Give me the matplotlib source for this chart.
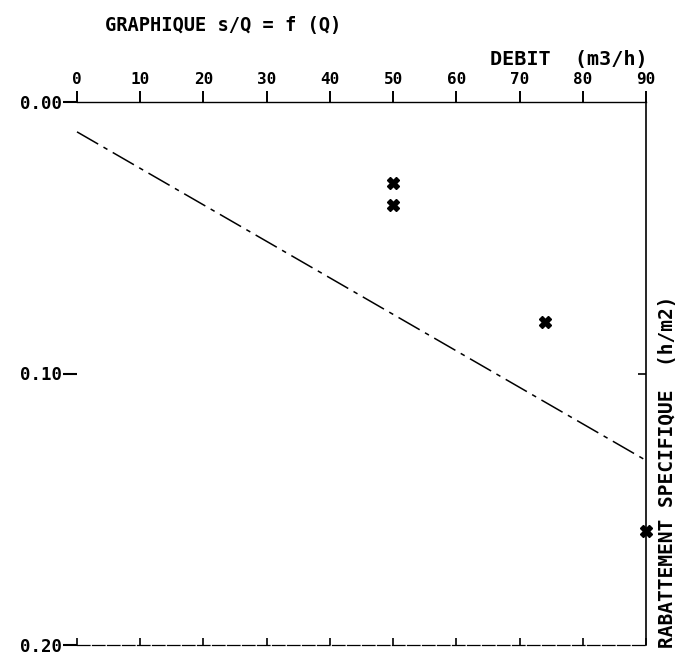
import matplotlib
matplotlib.use('Agg')
import matplotlib.pyplot as plt

# data
debit_points = [50, 50, 74, 90]
sq_points = [0.030, 0.038, 0.081, 0.158]
fit_debit = [0, 90]
fit_sq = [0.011, 0.132]

x_ticks = [0, 10, 20, 30, 40, 50, 60, 70, 80, 90]
y_ticks = [0.00, 0.10, 0.20]
y_labels = ['0.00', '0.10', '0.20']

mono = 'DejaVu Sans Mono'

fig = plt.figure(figsize=(6.85, 6.7), dpi=100)
ax = fig.add_axes([77 / 685, 1 - 645 / 670, 569 / 685, 543 / 670])

# regression line and measured points
ax.plot(fit_debit, fit_sq, color='black', linewidth=1.1,
        linestyle=(0, (16, 4, 3, 4)), clip_on=False)
ax.plot(debit_points, sq_points, linestyle='none', marker='X',
        markersize=8.5, color='black', clip_on=False)

ax.set_xlim(0, 90)
ax.set_ylim(0.20, 0.00)

# top axis carries the labels
ax.xaxis.tick_top()
ax.set_xticks(x_ticks)
ax.set_xticklabels([str(v) for v in x_ticks], fontfamily=mono,
                   fontweight='bold', fontsize=11.5)
ax.tick_params(axis='x', direction='out', length=8, width=1.4, pad=3)

ax.set_yticks(y_ticks)
ax.set_yticklabels(y_labels, fontfamily=mono, fontweight='bold', fontsize=12.5)
ax.tick_params(axis='y', direction='out', length=10, width=1.5, pad=1)

ax.spines['left'].set_visible(False)
ax.spines['bottom'].set_linestyle((0, (10, 2)))
ax.spines['bottom'].set_linewidth(0.9)
ax.spines['top'].set_linewidth(1.0)
ax.spines['right'].set_linewidth(1.2)

# small inward ticks on bottom and right
bot = ax.secondary_xaxis('bottom')
bot.set_xticks(x_ticks)
bot.tick_params(direction='in', length=5, width=1.2, labelbottom=False)
bot.spines['bottom'].set_visible(False)

right = ax.secondary_yaxis('right')
right.set_yticks([0.10])
right.tick_params(direction='in', length=6, width=1.2, labelright=False)
right.spines['right'].set_visible(False)

fig.text(105 / 685, 1 - 25 / 670, 'GRAPHIQUE s/Q = f (Q)', fontfamily=mono,
         fontweight='bold', fontsize=13.5, ha='left', va='center')
fig.text(648 / 685, 1 - 60 / 670, 'DEBIT  (m3/h)', fontfamily=mono,
         fontweight='bold', fontsize=14.5, ha='right', va='center')
fig.text(668 / 685, 22 / 670, 'RABATTEMENT SPECIFIQUE  (h/m2)', fontfamily=mono,
         fontweight='bold', fontsize=14, rotation=90, ha='center', va='bottom')

fig.savefig('out.png', dpi=100)
